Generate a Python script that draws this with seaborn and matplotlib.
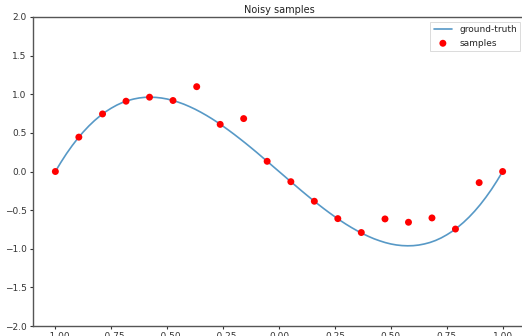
import matplotlib
matplotlib.use("Agg")
import matplotlib.pyplot as plt
import seaborn as sns
import pandas as pd

# ground-truth curve, x from -1 to 1
gt_x = [-1.0, -0.975, -0.95, -0.925, -0.9, -0.875, -0.85, -0.825, -0.8, -0.775,
        -0.75, -0.725, -0.7, -0.675, -0.65, -0.625, -0.6, -0.575, -0.55, -0.525,
        -0.5, -0.475, -0.45, -0.425, -0.4, -0.375, -0.35, -0.325, -0.3, -0.275,
        -0.25, -0.225, -0.2, -0.175, -0.15, -0.125, -0.1, -0.075, -0.05, -0.025,
        0.0,
        0.025, 0.05, 0.075, 0.1, 0.125, 0.15, 0.175, 0.2, 0.225, 0.25,
        0.275, 0.3, 0.325, 0.35, 0.375, 0.4, 0.425, 0.45, 0.475, 0.5,
        0.525, 0.55, 0.575, 0.6, 0.625, 0.65, 0.675, 0.7, 0.725, 0.75,
        0.775, 0.8, 0.825, 0.85, 0.875, 0.9, 0.925, 0.95, 0.975, 1.0]
gt_y = [0.0, 0.120, 0.232, 0.334, 0.428, 0.513, 0.590, 0.659, 0.720, 0.774,
        0.820, 0.860, 0.893, 0.919, 0.938, 0.952, 0.960, 0.962, 0.959, 0.951,
        0.938, 0.920, 0.897, 0.871, 0.840, 0.806, 0.768, 0.727, 0.683, 0.636,
        0.586, 0.534, 0.480, 0.424, 0.367, 0.308, 0.248, 0.186, 0.125, 0.062,
        0.0,
        -0.062, -0.125, -0.186, -0.248, -0.308, -0.367, -0.424, -0.480, -0.534, -0.586,
        -0.636, -0.683, -0.727, -0.768, -0.806, -0.840, -0.871, -0.897, -0.920, -0.938,
        -0.951, -0.959, -0.962, -0.960, -0.952, -0.938, -0.919, -0.893, -0.860, -0.820,
        -0.774, -0.720, -0.659, -0.590, -0.513, -0.428, -0.334, -0.232, -0.120, 0.0]

# noisy samples
sample_x = [-1.0, -0.895, -0.789, -0.684, -0.579, -0.474, -0.368, -0.263, -0.158, -0.053,
            0.053, 0.158, 0.263, 0.368, 0.474, 0.579, 0.684, 0.789, 0.895, 1.0]
sample_y = [0.0, 0.445, 0.745, 0.91, 0.962, 0.919, 1.098, 0.61, 0.685, 0.132,
            -0.132, -0.385, -0.61, -0.79, -0.614, -0.657, -0.601, -0.745, -0.144, 0.0]

xticks = [-1.0, -0.75, -0.5, -0.25, 0.0, 0.25, 0.5, 0.75, 1.0]
yticks = [-2.0, -1.5, -1.0, -0.5, 0.0, 0.5, 1.0, 1.5, 2.0]

sns.set_style("ticks")
plt.rcParams['font.family'] = ['DejaVu Sans']

fig = plt.figure(figsize=(5.22, 3.36), dpi=100)
ax = fig.add_axes([33/522, 10/336, (525-33)/522, (326-17)/336])

gt = pd.DataFrame({"x": gt_x, "y": gt_y})
sm = pd.DataFrame({"x": sample_x, "y": sample_y})
sns.lineplot(data=gt, x="x", y="y", ax=ax, color="#1f77b4", alpha=0.75,
             linewidth=1.2, label="ground-truth")
sns.scatterplot(data=sm, x="x", y="y", ax=ax, color="red", s=25,
                edgecolor="none", label="samples", zorder=3)

ax.set_xlim(-1.1, 1.1)
ax.set_ylim(-2.0, 2.0)
ax.set_xticks(xticks)
ax.set_yticks(yticks)
ax.set_xticklabels([f"{t:.2f}".replace("-", "\u2212") for t in xticks])
ax.set_yticklabels([f"{t:.1f}".replace("-", "\u2212") for t in yticks])
ax.tick_params(labelsize=6.5, length=2.5, width=0.8, colors="#333333", pad=2)
ax.set_xlabel("")
ax.set_ylabel("")
ax.set_title("Noisy samples", fontsize=7, color="#222222", pad=3)
for s in ax.spines.values():
    s.set_linewidth(1.0)
    s.set_color("#555555")
ax.spines["right"].set_visible(False)
leg = ax.legend(loc="upper right", fontsize=6.5, frameon=True, fancybox=False,
                borderaxespad=0.5)
leg.get_frame().set_edgecolor("#cccccc")
leg.get_frame().set_linewidth(0.6)

fig.savefig("out.png", dpi=100)
